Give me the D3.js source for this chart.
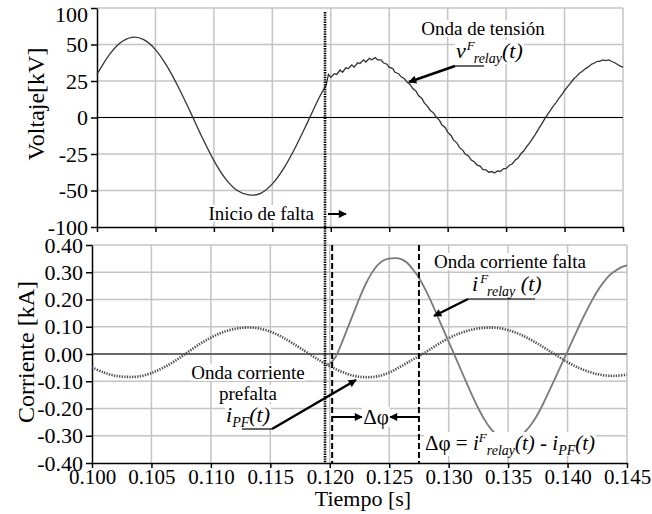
<!DOCTYPE html>
<html><head><meta charset="utf-8">
<script src="https://cdn.jsdelivr.net/npm/d3@7"></script>
<style>
body{margin:0;background:#fff}
svg{display:block}
</style>
</head><body>
<svg id="c" width="652" height="514"></svg>
<script>
// ---------- data ----------
const timeTicks = [0.100,0.105,0.110,0.115,0.120,0.125,0.130,0.135,0.140,0.145];
const timeTickLabels = ["0.100","0.105","0.110","0.115","0.120","0.125","0.130","0.135","0.140","0.145"];
const voltTicks = [-75,-50,-25,0,25,50,75];
const voltTickLabels = ["-100","-50","-25","0","25","50","100"];
const currTicks = [-0.4,-0.3,-0.2,-0.1,0,0.1,0.2,0.3,0.4];
const currTickLabels = ["-0.40","-0.30","-0.20","-0.10","0.00","0.10","0.20","0.30","0.40"];

// voltage before fault [kV]
const vPreT = [0.100,0.101,0.102,0.103,0.104,0.105,0.106,0.107,0.108,0.109,0.110,0.111,0.112,0.113,0.114,0.115,0.116,0.117,0.118,0.119,0.1196];
const vPreV = [29.5,42.4,51.2,54.9,53.3,46.5,35.0,20.2,3.5,-13.7,-29.5,-42,-50,-53,-52,-45.5,-34.5,-20,-3.5,13.5,22];
// voltage after fault (noisy) [kV]
const vPostT = [0.1196,0.1198,0.1200,0.1203,0.1205,0.1208,0.1210,0.1213,0.1215,0.1218,0.1220,0.1223,0.1225,0.1228,0.1230,0.1233,0.1235,0.1238,0.1240,0.1243,0.1245,0.1248,0.1250,0.1253,0.1255,0.1258,0.1260,0.1263,0.1265,0.1268,0.1270,0.1273,0.1275,0.1278,0.1280,0.1283,0.1285,0.1288,0.1290,0.1293,0.1295,0.1298,0.1300,0.1303,0.1305,0.1308,0.1310,0.1313,0.1315,0.1318,0.1320,0.1323,0.1325,0.1328,0.1330,0.1333,0.1335,0.1338,0.1340,0.1343,0.1345,0.1348,0.1350,0.1353,0.1355,0.1358,0.1360,0.1363,0.1365,0.1368,0.1370,0.1373,0.1375,0.1378,0.1380,0.1383,0.1385,0.1388,0.1390,0.1393,0.1395,0.1398,0.1400,0.1403,0.1405,0.1408,0.1410,0.1413,0.1415,0.1418,0.1420,0.1423,0.1425,0.1428,0.1430,0.1433,0.1435,0.1438,0.1440,0.1443,0.1445,0.1448,0.1450];
const vPostV = [22,29.5,27.5,30,29.5,32.5,31,34,33.5,36,34.5,37.5,37,39.5,38,40.5,39.5,41,39.5,39.5,37.5,36.5,34.5,33.5,31,30,28,26.5,24.5,22.5,20,18,15,13,10,7.5,5,3,0.5,-2,-5,-7,-10,-12.5,-15.5,-17.5,-20.5,-22.5,-25,-26.5,-29,-30.5,-32.5,-33.5,-35.5,-36,-37.5,-37,-38,-36.5,-37,-35,-35,-32.5,-32,-29,-28,-24.5,-23,-19.5,-17.5,-14,-11.5,-7.5,-5,-1,1.5,5,7.5,10.5,13,16,18.5,21.5,23.5,26.5,28,30.5,31.5,33.5,34.5,36.5,37,38.5,38.5,39.5,39,39.5,38.5,37.5,36.5,35,34.5];

// pre-fault current i_PF [kA]
const iPfT = [0.100,0.101,0.102,0.103,0.104,0.105,0.106,0.107,0.108,0.109,0.110,0.111,0.112,0.113,0.114,0.115,0.116,0.117,0.118,0.119,0.120,0.121,0.122,0.123,0.124,0.125,0.126,0.127,0.128,0.129,0.130,0.131,0.132,0.133,0.134,0.135,0.136,0.137,0.138,0.139,0.140,0.141,0.142,0.143,0.144,0.145];
const iPfV = [-0.049,-0.068,-0.080,-0.084,-0.082,-0.070,-0.050,-0.025,0.005,0.035,0.060,0.080,0.092,0.097,0.094,0.082,0.062,0.036,0.008,-0.020,-0.045,-0.065,-0.080,-0.085,-0.082,-0.068,-0.045,-0.020,0.005,0.033,0.058,0.077,0.090,0.096,0.096,0.088,0.072,0.050,0.024,-0.003,-0.030,-0.052,-0.068,-0.078,-0.080,-0.076];

// fault current i^F_relay [kA]
const iFT = [0.1197,0.1200,0.1205,0.1210,0.1215,0.1220,0.1225,0.1230,0.1235,0.1240,0.1245,0.1250,0.1255,0.1260,0.1265,0.1270,0.1275,0.1280,0.1285,0.1290,0.1295,0.1300,0.1305,0.1310,0.1315,0.1320,0.1325,0.1330,0.1335,0.1340,0.1345,0.1350,0.1355,0.1360,0.1365,0.1370,0.1375,0.1380,0.1385,0.1390,0.1395,0.1400,0.1405,0.1410,0.1415,0.1420,0.1425,0.1430,0.1435,0.1440,0.1445,0.1450];
const iFV = [-0.040,-0.035,-0.010,0.040,0.095,0.150,0.205,0.255,0.295,0.325,0.343,0.350,0.352,0.348,0.335,0.310,0.280,0.240,0.195,0.145,0.095,0.045,-0.005,-0.055,-0.105,-0.155,-0.200,-0.240,-0.272,-0.295,-0.308,-0.312,-0.312,-0.302,-0.282,-0.255,-0.220,-0.178,-0.132,-0.085,-0.037,0.010,0.058,0.105,0.150,0.192,0.230,0.262,0.288,0.305,0.318,0.325];

const faultTime = 0.1196;
const phaseMarks = [0.1202, 0.1275];

// ---------- drawing ----------
const FONT = "'Liberation Serif','Times New Roman',serif";
const svg = d3.select("#c");
const defs = svg.append("defs");
defs.append("marker").attr("id","ah").attr("viewBox","0 0 10 10").attr("refX",9).attr("refY",5)
  .attr("markerWidth",10).attr("markerHeight",8).attr("markerUnits","userSpaceOnUse").attr("orient","auto")
  .append("path").attr("d","M0,0L10,5L0,10Z").attr("fill","#000");

const xTop = d3.scaleLinear().domain([0.1,0.145]).range([97,623]);
const yTop = d3.scaleLinear().domain([-75,75]).range([227,8]);
const xBot = d3.scaleLinear().domain([0.1,0.145]).range([92,627]);
const yBot = d3.scaleLinear().domain([-0.4,0.4]).range([463,245]);

const gridColor = "#c4c4c4";
function panel(x, y, yTicks, yLabels, showX, topShift) {
  const g = svg.append("g");
  g.selectAll(".gx").data(timeTicks.slice(1)).join("line")
    .attr("x1",d=>x(d)).attr("x2",d=>x(d)).attr("y1",y.range()[1]).attr("y2",y.range()[0])
    .attr("stroke",gridColor).attr("stroke-width",1.5);
  g.selectAll(".gy").data(yTicks.filter(d=>d!==yTicks[0])).join("line")
    .attr("x1",x.range()[0]).attr("x2",x.range()[1]).attr("y1",d=>y(d)).attr("y2",d=>y(d))
    .attr("stroke",gridColor).attr("stroke-width",1.5);
  g.append("line").attr("x1",x.range()[0]).attr("x2",x.range()[1]).attr("y1",y(0)).attr("y2",y(0))
    .attr("stroke","#000").attr("stroke-width",1.2);
  const ya = g.append("g").attr("transform",`translate(${x.range()[0]},0)`)
    .call(d3.axisLeft(y).tickValues(yTicks).tickSize(6).tickSizeOuter(0).tickPadding(3)
      .tickFormat((d,i)=>yLabels[i]));
  ya.selectAll("text").attr("font-size",22);
  ya.selectAll(".tick").filter((d,i)=>i===yTicks.length-1).select("text").attr("dy", (0.32 + topShift) + "em");
  ya.selectAll("line,path").attr("stroke","#000").attr("stroke-width",1.5);
  const xa = g.append("g").attr("transform",`translate(0,${y.range()[0]})`)
    .call(d3.axisBottom(x).tickValues(timeTicks).tickSize(5).tickSizeOuter(0).tickPadding(1)
      .tickFormat((d,i)=>showX ? timeTickLabels[i] : ""));
  xa.selectAll("text").attr("font-size",21);
  xa.selectAll("line,path").attr("stroke","#000").attr("stroke-width",1.5);
  return g;
}
panel(xTop, yTop, voltTicks, voltTickLabels, false, 0.3);
panel(xBot, yBot, currTicks, currTickLabels, true, 0);

// axis titles
svg.append("text").attr("transform","translate(44,104) rotate(-90)").attr("text-anchor","middle")
  .attr("font-size",24).text("Voltaje[kV]");
svg.append("text").attr("transform","translate(34,352) rotate(-90)").attr("text-anchor","middle")
  .attr("font-size",24).text("Corriente [kA]");
svg.append("text").attr("x",363).attr("y",506).attr("text-anchor","middle")
  .attr("font-size",22).text("Tiempo [s]");

// curves
svg.append("path").attr("d",d3.line().x(d=>xTop(d[0])).y(d=>yTop(d[1])).curve(d3.curveCardinal)(d3.zip(vPreT,vPreV)))
  .attr("fill","none").attr("stroke","#333").attr("stroke-width",1.3);
svg.append("path").attr("d",d3.line().x(d=>xTop(d[0])).y(d=>yTop(d[1]))(d3.zip(vPostT,vPostV)))
  .attr("fill","none").attr("stroke","#333").attr("stroke-width",1.3);

const lineI = d3.line().x(d=>xBot(d[0])).y(d=>yBot(d[1])).curve(d3.curveCardinal);
svg.append("path").attr("d",lineI(d3.zip(iPfT,iPfV)))
  .attr("fill","none").attr("stroke","#4a4a4a").attr("stroke-width",2.6).attr("stroke-dasharray","1.3,1.3");
svg.append("path").attr("d",lineI(d3.zip(iFT,iFV)))
  .attr("fill","none").attr("stroke","#7a7a7a").attr("stroke-width",1.8);

function bg(sel){
  sel.style("font-family",FONT);
  const b = sel.node().getBBox();
  sel.node().parentNode.insertBefore(
    svg.append("rect").attr("x",b.x-1).attr("y",b.y+2).attr("width",b.width+2).attr("height",b.height-4)
      .attr("fill","#fff").node(), sel.node());
}

// fault line
svg.append("line").attr("x1",xBot(faultTime)).attr("x2",xBot(faultTime)).attr("y1",12).attr("y2",yBot(-0.4))
  .attr("stroke","#000").attr("stroke-width",2.6).attr("stroke-dasharray","1.4,1");
svg.selectAll(".pm").data(phaseMarks).join("line")
  .attr("x1",d=>xBot(d)).attr("x2",d=>xBot(d)).attr("y1",yBot(0.4)).attr("y2",yBot(-0.4))
  .attr("stroke","#000").attr("stroke-width",2).attr("stroke-dasharray","6,3");

// Inicio de falta
const tInicio = svg.append("text").attr("x",314).attr("y",220).attr("text-anchor","end").attr("font-size",19).text("Inicio de falta");
bg(tInicio);
svg.append("line").attr("x1",xBot(faultTime)+3).attr("x2",xBot(faultTime)+21).attr("y1",214).attr("y2",214)
  .attr("stroke","#000").attr("stroke-width",2).attr("marker-end","url(#ah)");

// Onda de tensión
const t1 = svg.append("text").attr("x",483).attr("y",35).attr("text-anchor","middle").attr("font-size",19).text("Onda de tensión");
bg(t1);
const t2 = svg.append("text").attr("x",456).attr("y",58).attr("font-size",22).attr("font-style","italic");
t2.append("tspan").text("ν");
t2.append("tspan").attr("font-size",13).attr("dy",-8).attr("dx",1).text("F");
t2.append("tspan").attr("font-size",14).attr("dy",13).attr("dx",-1).text("relay");
t2.append("tspan").attr("dy",-5).text("(t)");
bg(t2);
svg.append("line").attr("x1",484).attr("y1",66).attr("x2",455).attr("y2",66).attr("stroke","#000").attr("stroke-width",1.2);
svg.append("line").attr("x1",455).attr("y1",66).attr("x2",409).attr("y2",82)
  .attr("stroke","#000").attr("stroke-width",2.5).attr("marker-end","url(#ah)");

// Onda corriente falta
const t3 = svg.append("text").attr("x",510).attr("y",268).attr("text-anchor","middle").attr("font-size",19).text("Onda corriente falta");
bg(t3);
const t4 = svg.append("text").attr("x",472).attr("y",291).attr("font-size",22).attr("font-style","italic");
t4.append("tspan").text("i");
t4.append("tspan").attr("font-size",13).attr("dy",-8).attr("dx",2).text("F");
t4.append("tspan").attr("font-size",14).attr("dy",13).attr("dx",-1).text("relay");
t4.append("tspan").attr("dy",-5).text(" (t)");
bg(t4);
svg.append("line").attr("x1",535).attr("y1",299).attr("x2",468).attr("y2",299).attr("stroke","#000").attr("stroke-width",1.2);
svg.append("line").attr("x1",468).attr("y1",299).attr("x2",434).attr("y2",316)
  .attr("stroke","#000").attr("stroke-width",2.5).attr("marker-end","url(#ah)");

// Onda corriente prefalta
const t5 = svg.append("text").attr("x",248).attr("y",379).attr("text-anchor","middle").attr("font-size",19).text("Onda corriente");
bg(t5);
const t6 = svg.append("text").attr("x",248).attr("y",400).attr("text-anchor","middle").attr("font-size",19).text("prefalta");
bg(t6);
const t7 = svg.append("text").attr("x",226).attr("y",422).attr("font-size",22).attr("font-style","italic");
t7.append("tspan").text("i");
t7.append("tspan").attr("font-size",14).attr("dy",5).text("PF");
t7.append("tspan").attr("dy",-5).text("(t)");
bg(t7);
svg.append("line").attr("x1",242).attr("y1",429).attr("x2",272).attr("y2",429).attr("stroke","#000").attr("stroke-width",1.2);
svg.append("line").attr("x1",272).attr("y1",429).attr("x2",356).attr("y2",380)
  .attr("stroke","#000").attr("stroke-width",2.5).attr("marker-end","url(#ah)");

// delta phi arrows
const yPhi = 417;
svg.append("line").attr("x1",xBot(phaseMarks[0])).attr("x2",362).attr("y1",yPhi).attr("y2",yPhi)
  .attr("stroke","#000").attr("stroke-width",2).attr("marker-end","url(#ah)");
svg.append("line").attr("x1",xBot(phaseMarks[1])).attr("x2",390).attr("y1",yPhi).attr("y2",yPhi)
  .attr("stroke","#000").attr("stroke-width",2).attr("marker-end","url(#ah)");
const tphi = svg.append("text").attr("x",376).attr("y",424).attr("text-anchor","middle").attr("font-size",21).text("Δφ");
bg(tphi);

// formula
const t8 = svg.append("text").attr("x",425).attr("y",450).attr("font-size",21);
t8.append("tspan").text("Δφ = ");
t8.append("tspan").attr("font-style","italic").text("i");
t8.append("tspan").attr("font-size",13).attr("font-style","italic").attr("dy",-8).text("F");
t8.append("tspan").attr("font-size",14).attr("font-style","italic").attr("dy",13).text("relay");
t8.append("tspan").attr("font-style","italic").attr("dy",-5).text("(t)");
t8.append("tspan").text(" - ");
t8.append("tspan").attr("font-style","italic").text("i");
t8.append("tspan").attr("font-size",14).attr("font-style","italic").attr("dy",5).text("PF");
t8.append("tspan").attr("font-style","italic").attr("dy",-5).text("(t)");
bg(t8);

svg.selectAll("text").style("font-family",FONT);
</script>
</body></html>
